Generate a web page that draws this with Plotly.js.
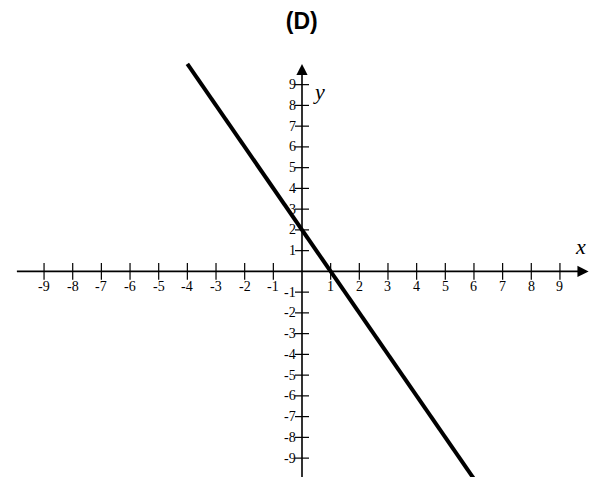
<!DOCTYPE html>
<html>
<head>
<meta charset="utf-8">
<script src="https://cdn.plot.ly/plotly-3.0.1.min.js"></script>
<style>html,body{margin:0;padding:0;background:#fff;}#chart{width:594px;height:477px;}</style>
</head>
<body>
<div id="chart"></div>
<script>
// Data
const lineX = [-4, 6];
const lineY = [10, -10];
const xTicks = [-9, -8, -7, -6, -5, -4, -3, -2, -1, 1, 2, 3, 4, 5, 6, 7, 8, 9];
const yTicks = [-9, -8, -7, -6, -5, -4, -3, -2, -1, 1, 2, 3, 4, 5, 6, 7, 8, 9];
const xTickLabels = xTicks.map(String);
const yTickLabels = yTicks.map(String);
const axisMin = -10, axisMax = 10;
const titleText = '(D)';

const serif = '"Liberation Serif", "Times New Roman", serif';

const traces = [
  {
    x: xTicks, y: xTicks.map(() => 0), mode: 'markers', type: 'scatter',
    marker: {symbol: 'line-ns', size: 12, line: {color: '#000', width: 1.2}},
    hoverinfo: 'skip', showlegend: false, cliponaxis: false
  },
  {
    x: yTicks.map(() => 0), y: yTicks, mode: 'markers', type: 'scatter',
    marker: {symbol: 'line-ew', size: 10, line: {color: '#000', width: 1.2}},
    hoverinfo: 'skip', showlegend: false, cliponaxis: false
  },
  {
    x: lineX, y: lineY, mode: 'lines', type: 'scatter',
    line: {color: '#000', width: 4},
    hoverinfo: 'skip', showlegend: false
  }
];

const annotations = [];
// axis lines with arrowheads
annotations.push({x: axisMax, y: 0, ax: axisMin, ay: 0, xref: 'x', yref: 'y', axref: 'x', ayref: 'y',
  showarrow: true, arrowhead: 2, arrowsize: 1.4, arrowwidth: 1.6, arrowcolor: '#000', text: ''});
annotations.push({x: 0, y: axisMax, ax: 0, ay: axisMin - 1, xref: 'x', yref: 'y', axref: 'x', ayref: 'y',
  showarrow: true, arrowhead: 2, arrowsize: 1.4, arrowwidth: 1.6, arrowcolor: '#000', text: ''});
xTicks.forEach((v, i) => annotations.push({
  x: v, y: 0, xref: 'x', yref: 'y', text: xTickLabels[i], showarrow: false,
  xanchor: 'center', yanchor: 'top', yshift: -6, font: {family: serif, size: 14, color: '#000'}
}));
yTicks.forEach((v, i) => annotations.push({
  x: 0, y: v, xref: 'x', yref: 'y', text: yTickLabels[i], showarrow: false,
  xanchor: 'right', yanchor: 'middle', xshift: -4, font: {family: serif, size: 14, color: '#000'}
}));
annotations.push({x: 9.73, y: 1.19, xref: 'x', yref: 'y', text: '<i>x</i>', showarrow: false,
  font: {family: serif, size: 22, color: '#000'}});
annotations.push({x: 0.6, y: 8.66, xref: 'x', yref: 'y', text: '<i>y</i>', showarrow: false,
  font: {family: serif, size: 22, color: '#000'}});

const layout = {
  width: 594, height: 477,
  margin: {l: 0, r: 0, t: 0, b: 0},
  paper_bgcolor: '#fff', plot_bgcolor: '#fff',
  title: {text: '<b>' + titleText + '</b>', x: 0.508, xanchor: 'center', y: 1 - 21 / 477, yanchor: 'middle',
    yref: 'container', font: {family: '"Liberation Sans", Arial, sans-serif', size: 23, color: '#000'}},
  xaxis: {range: [-10.537, 10.188], visible: false, fixedrange: true},
  yaxis: {range: [-9.91, 13.08], visible: false, fixedrange: true},
  annotations: annotations,
  showlegend: false
};

Plotly.newPlot('chart', traces, layout, {displayModeBar: false, staticPlot: true});
</script>
</body>
</html>
